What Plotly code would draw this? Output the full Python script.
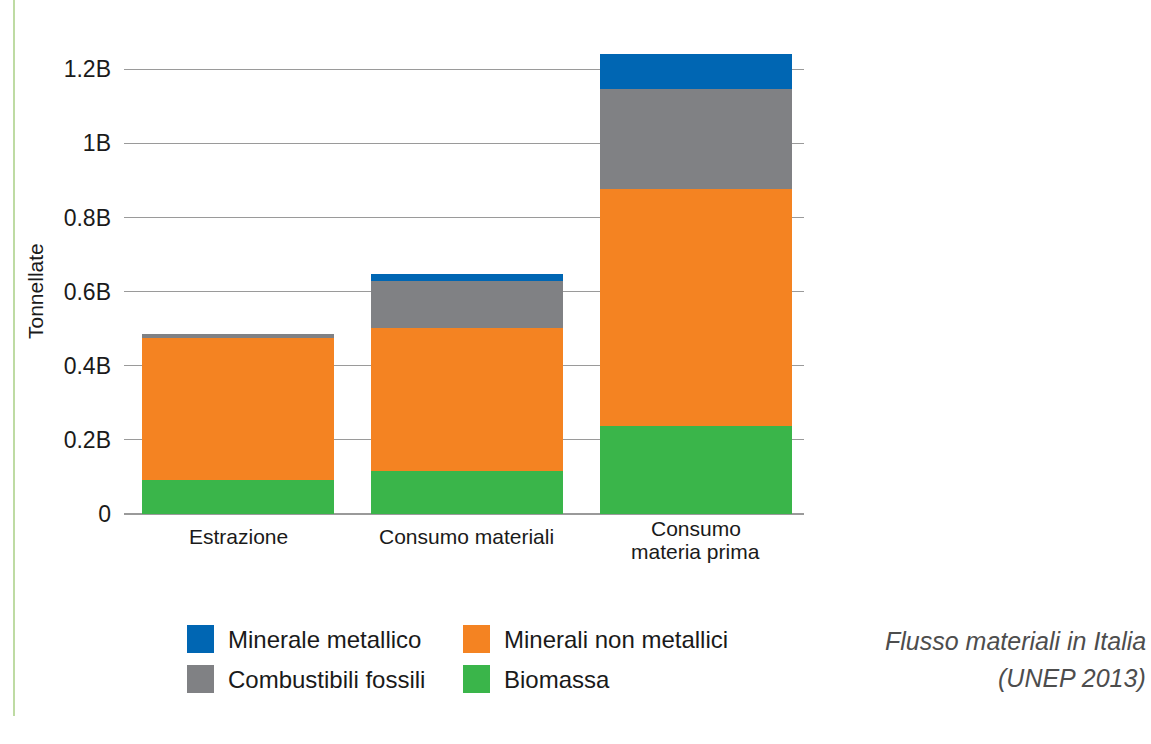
import plotly.graph_objects as go

# Material flows in Italy, tonnes (billions)
categories = ["Estrazione", "Consumo materiali", "Consumo<br>materia prima"]
biomassa = [0.093, 0.117, 0.237]
minerali_non_metallici = [0.382, 0.384, 0.639]
combustibili_fossili = [0.012, 0.127, 0.270]
minerale_metallico = [0.0, 0.019, 0.094]

y_tickvals = [0, 0.2, 0.4, 0.6, 0.8, 1.0, 1.2]
y_ticktext = ["0", "0.2B", "0.4B", "0.6B", "0.8B", "1B", "1.2B"]

series = [
    ("Biomassa", biomassa, "#3ab54a"),
    ("Minerali non metallici", minerali_non_metallici, "#f48322"),
    ("Combustibili fossili", combustibili_fossili, "#808184"),
    ("Minerale metallico", minerale_metallico, "#0066b3"),
]

FONT = "Liberation Sans, Arial, Helvetica, sans-serif"
W, H = 1151, 744
ML, MR, MT, MB = 124, 347, 47, 230
PW, PH = W - ML - MR, H - MT - MB


def px(x):
    return (x - ML) / PW


def py(y):
    return (H - MB - y) / PH


fig = go.Figure()
for name, vals, color in series:
    fig.add_trace(go.Bar(
        x=list(range(len(categories))), y=vals, name=name,
        marker=dict(color=color, line=dict(width=0)),
        hoverinfo="y+name", showlegend=False,
    ))

shapes = [
    # thin green rule down the left margin
    dict(type="line", xref="paper", yref="paper",
         x0=px(14), x1=px(14), y0=py(0), y1=py(716),
         line=dict(color="#a9cf84", width=1.5)),
]
annotations = [
    dict(text="Tonnellate", xref="paper", yref="paper", x=px(35), y=py(291),
         textangle=-90, showarrow=False, xanchor="center", yanchor="middle",
         font=dict(family=FONT, size=21, color="#1a1a1a")),
    dict(text="<i>Flusso materiali in Italia</i>", xref="paper", yref="paper",
         x=px(1148), y=py(641), xanchor="right", yanchor="middle", showarrow=False,
         font=dict(family=FONT, size=25, color="#4d4d4d")),
    dict(text="<i>(UNEP 2013)</i>", xref="paper", yref="paper",
         x=px(1148), y=py(678), xanchor="right", yanchor="middle", showarrow=False,
         font=dict(family=FONT, size=25, color="#4d4d4d")),
]

# category labels under the bars, one annotation per text line
for i, cat in enumerate(categories):
    lines = cat.split("<br>")
    if len(lines) == 1:
        ys = [536]
    else:
        ys = [528, 551]
    for line, yy in zip(lines, ys):
        annotations.append(dict(text=line, xref="x", yref="paper", x=i, y=py(yy),
                                xanchor="center", yanchor="middle", showarrow=False,
                                font=dict(family=FONT, size=21, color="#1a1a1a")))

# legend: two columns of swatches with labels
legend_items = [
    ("Minerale metallico", "#0066b3", 187, 639),
    ("Minerali non metallici", "#f48322", 463, 639),
    ("Combustibili fossili", "#808184", 187, 679),
    ("Biomassa", "#3ab54a", 463, 679),
]
for label, color, lx, ly in legend_items:
    shapes.append(dict(type="rect", xref="paper", yref="paper",
                       x0=px(lx), x1=px(lx + 27), y0=py(ly - 14), y1=py(ly + 14),
                       fillcolor=color, line=dict(width=0)))
    annotations.append(dict(text=label, xref="paper", yref="paper",
                            x=px(lx + 39), y=py(ly), xanchor="left", yanchor="middle",
                            showarrow=False,
                            font=dict(family=FONT, size=24, color="#1a1a1a")))

fig.update_layout(
    width=W, height=H,
    margin=dict(l=ML, r=MR, t=MT, b=MB, pad=0),
    barmode="stack", bargap=0.162,
    plot_bgcolor="white", paper_bgcolor="white",
    font=dict(family=FONT, color="#1a1a1a"),
    xaxis=dict(
        range=[-0.498, 2.472], tickvals=list(range(len(categories))),
        showticklabels=False, showgrid=False, zeroline=False, showline=False,
        ticks="",
    ),
    yaxis=dict(
        range=[0, 1.26], tickvals=y_tickvals, ticktext=y_ticktext,
        showgrid=True, gridcolor="#9a9a9a", gridwidth=1.4,
        zeroline=True, zerolinecolor="#9a9a9a", zerolinewidth=2,
        showline=False, ticks="",
        tickfont=dict(family=FONT, size=23, color="#1a1a1a"),
        ticklabelstandoff=12,
    ),
    shapes=shapes, annotations=annotations,
)

fig.write_html("out.html")
